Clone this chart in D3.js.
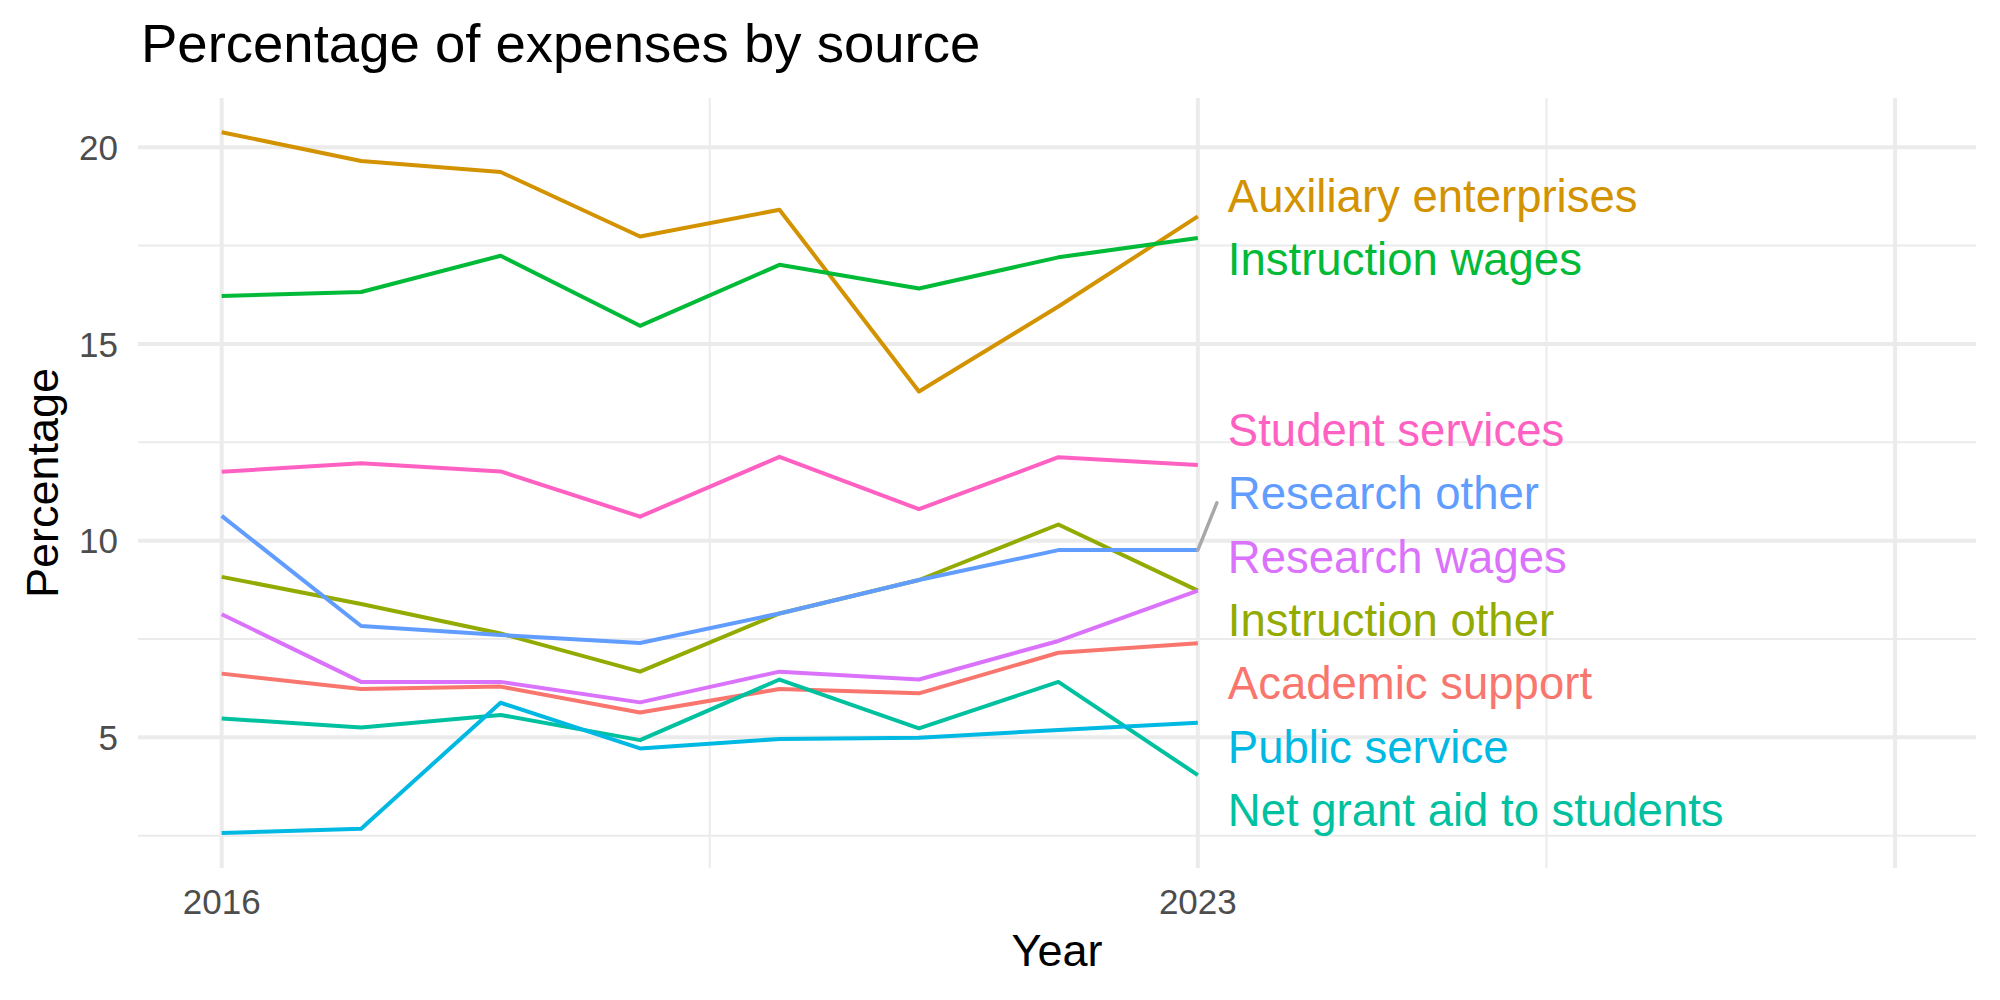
<!DOCTYPE html>
<html>
<head>
<meta charset="utf-8">
<script src="https://cdn.jsdelivr.net/npm/d3@7"></script>
<style>
  body { margin: 0; background: #fff; }
  text { font-family: "Liberation Sans", Arial, Helvetica, sans-serif; }
</style>
</head>
<body>
<div id="chart"></div>
<script>
// data
var years = [2016, 2017, 2018, 2019, 2020, 2021, 2022, 2023]

var academicSupport   = [6.62, 6.23, 6.29, 5.63, 6.23, 6.12, 7.15, 7.39]
var auxiliary         = [20.38, 19.65, 19.37, 17.73, 18.41, 13.79, 15.95, 18.24]
var instructionOther  = [9.08, 8.39, 7.64, 6.67, 8.15, 9.00, 10.41, 8.73]
var instructionWages  = [16.22, 16.32, 17.24, 15.46, 17.01, 16.41, 17.20, 17.69]
var netGrantAid       = [5.48, 5.25, 5.57, 4.93, 6.47, 5.23, 6.41, 4.04]
var publicService     = [2.57, 2.68, 5.88, 4.72, 4.96, 4.99, 5.19, 5.37]
var researchOther     = [10.63, 7.83, 7.60, 7.40, 8.15, 9.00, 9.76, 9.76]
var researchWages     = [8.13, 6.41, 6.41, 5.89, 6.67, 6.47, 7.45, 8.73]
var studentServices   = [11.75, 11.97, 11.76, 10.61, 12.13, 10.80, 12.12, 11.92]

var seriesNames = ["Academic support", "Auxiliary enterprises", "Instruction other",
                   "Instruction wages", "Net grant aid to students", "Public service",
                   "Research other", "Research wages", "Student services"]
var seriesValues = [academicSupport, auxiliary, instructionOther, instructionWages,
                    netGrantAid, publicService, researchOther, researchWages, studentServices]
var colors = ["#F8766D", "#D39200", "#93AA00", "#00BA38", "#00C19F",
              "#00B9E3", "#619CFF", "#DB72FB", "#FF61C3"]

var yTicks = [5, 10, 15, 20]
var yMinor = [2.5, 7.5, 12.5, 17.5]
var xBreaks = [2016, 2023, 2028]
var xLabels = ["2016", "2023", ""]
var xMinor = [2019.5, 2025.5]

var width = 2000, height = 1000
var panel = {left: 138, right: 1976, top: 98, bottom: 868}

var svg = d3.select("#chart").append("svg")
    .attr("width", width)
    .attr("height", height)
    .style("display", "block")

svg.append("rect").attr("width", width).attr("height", height).attr("fill", "#fff")

var x = d3.scaleLinear().domain([2015.4, 2028.58]).range([panel.left, panel.right])
var y = d3.scaleLinear().domain([1.68, 21.25]).range([panel.bottom, panel.top])

// grid
var grid = svg.append("g")
grid.selectAll(".ymin").data(yMinor).enter().append("line")
    .attr("x1", panel.left).attr("x2", panel.right)
    .attr("y1", d => y(d)).attr("y2", d => y(d))
    .attr("stroke", "#EBEBEB").attr("stroke-width", 2)
grid.selectAll(".xmin").data(xMinor).enter().append("line")
    .attr("y1", panel.top).attr("y2", panel.bottom)
    .attr("x1", d => x(d)).attr("x2", d => x(d))
    .attr("stroke", "#EBEBEB").attr("stroke-width", 2)
grid.selectAll(".ymaj").data(yTicks).enter().append("line")
    .attr("x1", panel.left).attr("x2", panel.right)
    .attr("y1", d => y(d)).attr("y2", d => y(d))
    .attr("stroke", "#EBEBEB").attr("stroke-width", 4)
grid.selectAll(".xmaj").data(xBreaks).enter().append("line")
    .attr("y1", panel.top).attr("y2", panel.bottom)
    .attr("x1", d => x(d)).attr("x2", d => x(d))
    .attr("stroke", "#EBEBEB").attr("stroke-width", 4)

// axis labels
svg.selectAll(".ytick").data(yTicks).enter().append("text")
    .attr("x", 118).attr("y", d => y(d)).attr("dy", "0.36em")
    .attr("text-anchor", "end")
    .attr("font-size", 35).attr("fill", "#4D4D4D")
    .text(d => d)
svg.selectAll(".xtick").data(xBreaks).enter().append("text")
    .attr("x", d => x(d)).attr("y", 914)
    .attr("text-anchor", "middle")
    .attr("font-size", 35).attr("fill", "#4D4D4D")
    .text((d, i) => xLabels[i])

svg.append("text")
    .attr("x", (panel.left + panel.right) / 2).attr("y", 966)
    .attr("text-anchor", "middle").attr("font-size", 45).attr("fill", "#000")
    .text("Year")
svg.append("text")
    .attr("transform", "translate(58," + ((panel.top + panel.bottom) / 2) + ") rotate(-90)")
    .attr("text-anchor", "middle").attr("font-size", 45).attr("fill", "#000")
    .text("Percentage")

svg.append("text")
    .attr("x", 141).attr("y", 62)
    .attr("font-size", 54.5).attr("fill", "#000")
    .text("Percentage of expenses by source")

// lines
var line = d3.line().x((d, i) => x(years[i])).y(d => y(d))
svg.selectAll(".series").data(seriesValues).enter().append("path")
    .attr("d", d => line(d))
    .attr("fill", "none")
    .attr("stroke", (d, i) => colors[i])
    .attr("stroke-width", 4)
    .attr("stroke-linejoin", "round")

// end labels, pushed apart like ggrepel
var lastIdx = years.length - 1
var labels = seriesNames.map(function(name, i) {
    return {name: name, color: colors[i], py: y(seriesValues[i][lastIdx]), ly: y(seriesValues[i][lastIdx])}
})
labels.sort((a, b) => (a.py - b.py) || d3.descending(a.name, b.name))
var gap = 63.4
var clusters = labels.map(d => [d])
var merged = true
while (merged) {
    merged = false
    clusters.forEach(function(c) {
        var mean = d3.mean(c, d => d.py)
        c.forEach(function(d, k) { d.ly = mean + (k - (c.length - 1) / 2) * gap })
    })
    for (var k = 0; k < clusters.length - 1; k++) {
        var a = clusters[k], b = clusters[k + 1]
        if (b[0].ly - a[a.length - 1].ly < gap) {
            clusters.splice(k, 2, a.concat(b))
            merged = true
            break
        }
    }
}

var labelX = x(2023) + 30
var px = x(2023)
labels.forEach(function(d) {
    var top = d.ly - 22, bottom = d.ly + 10
    var ny = Math.max(top, Math.min(d.py, bottom))
    if (Math.abs(ny - d.py) > 35) {
        svg.append("line")
            .attr("x1", px).attr("y1", d.py)
            .attr("x2", labelX - 11).attr("y2", ny)
            .attr("stroke", "#A8A8A8").attr("stroke-width", 3.5)
            .attr("stroke-linecap", "round")
    }
})
svg.selectAll(".lab").data(labels).enter().append("text")
    .attr("x", labelX).attr("y", d => d.ly).attr("dy", "0.36em")
    .attr("font-size", 45.5)
    .attr("fill", d => d.color)
    .text(d => d.name)
</script>
</body>
</html>
